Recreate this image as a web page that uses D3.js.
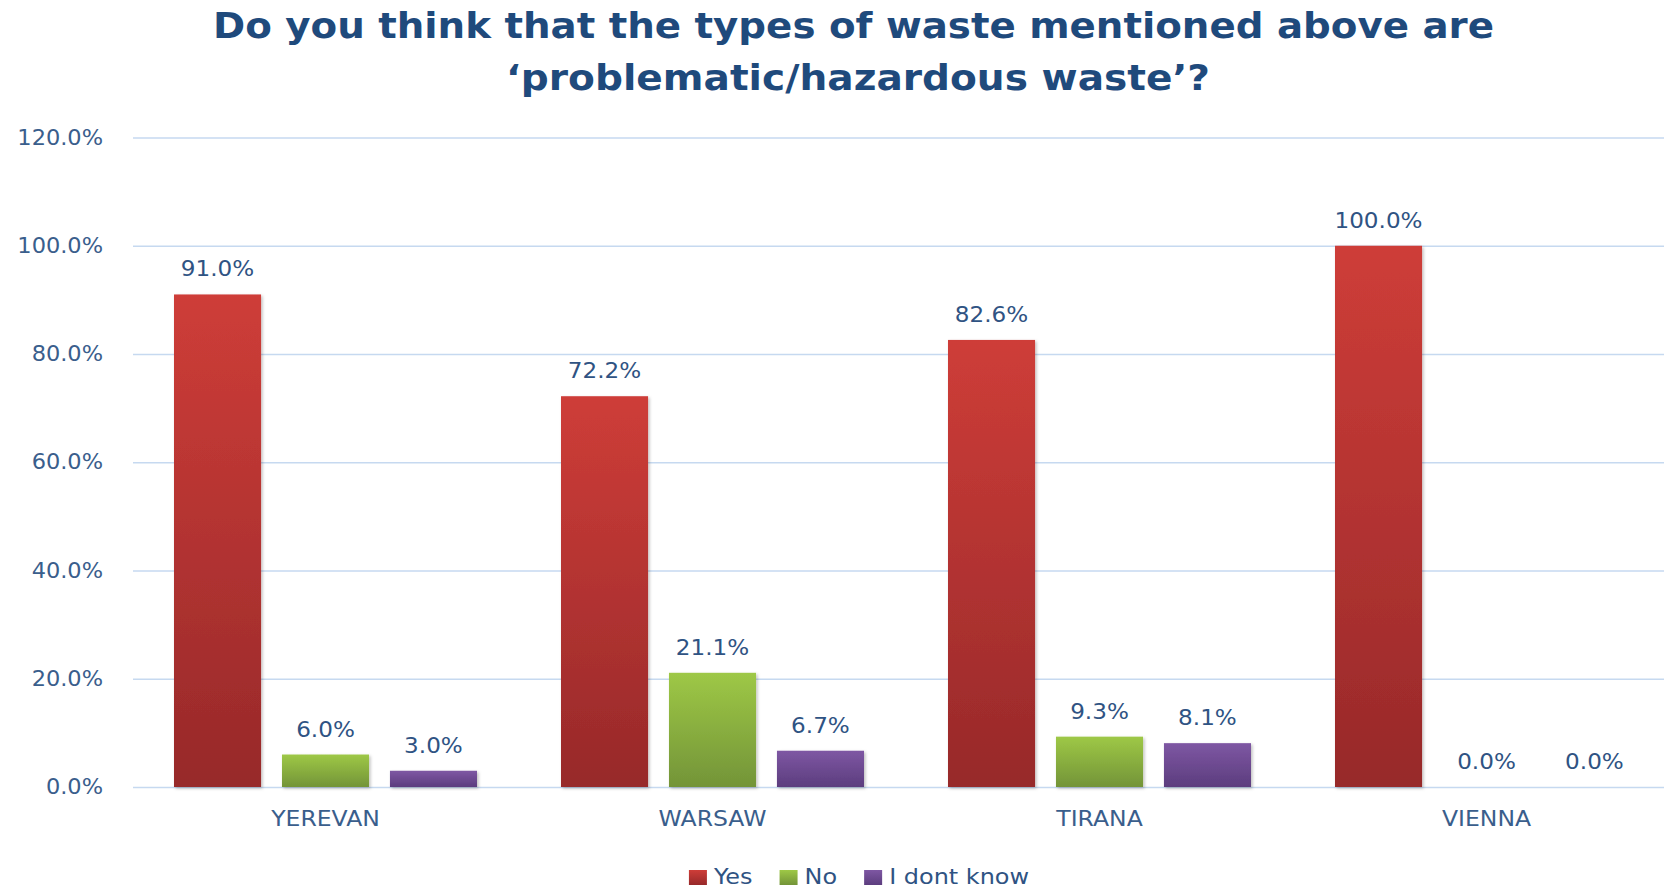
<html>
  <head>
    <style>
      body {
        margin: 0;
        background: #ffffff;
      }
      text {
        font-family: "DejaVu Sans", Verdana, sans-serif;
      }
      .title {
        font-weight: bold;
        font-size: 35px;
        fill: #1f4a7c;
      }
      .tick text {
        font-size: 21px;
        fill: #3a5e8c;
      }
      .value {
        font-size: 21px;
        fill: #2f5383;
      }
      .legend text {
        font-size: 21px;
        fill: #2f5383;
      }
    </style>
  </head>

  <body>
    <div id="chart"></div>

    <script src="https://d3js.org/d3.v7.min.js"></script>
    <script>
      var categories = ["YEREVAN", "WARSAW", "TIRANA", "VIENNA"];
      var seriesNames = ["Yes", "No", "I dont know"];
      var yesValues = [91.0, 72.2, 82.6, 100.0];
      var noValues = [6.0, 21.1, 9.3, 0.0];
      var dontKnowValues = [3.0, 6.7, 8.1, 0.0];
      var yTicks = [0, 20, 40, 60, 80, 100, 120];

      var width = 1664,
        height = 888,
        stretch = 1.1;

      var colors = {
        "Yes": ["#ce3d38", "#97292a"],
        "No": ["#9ec846", "#739438"],
        "I dont know": ["#7e57a3", "#5c3d7e"]
      };

      var svg = d3
        .select("#chart")
        .append("svg")
        .attr("width", width)
        .attr("height", height);

      var defs = svg.append("defs");

      seriesNames.forEach(function (s, i) {
        var g = defs
          .append("linearGradient")
          .attr("id", "grad" + i)
          .attr("x1", 0)
          .attr("y1", 0)
          .attr("x2", 0)
          .attr("y2", 1);
        g.append("stop").attr("offset", "0%").attr("stop-color", colors[s][0]);
        g.append("stop").attr("offset", "100%").attr("stop-color", colors[s][1]);
      });

      defs
        .append("filter")
        .attr("id", "shadow")
        .attr("x", "-10%")
        .attr("y", "-10%")
        .attr("width", "130%")
        .attr("height", "130%")
        .append("feDropShadow")
        .attr("dx", 1.5)
        .attr("dy", 1.5)
        .attr("stdDeviation", 1.5)
        .attr("flood-color", "#000")
        .attr("flood-opacity", 0.25);

      // widen text a bit, the original font runs wider than DejaVu
      function widen(sel, f) {
        sel.each(function () {
          var w = this.getComputedTextLength();
          d3.select(this)
            .attr("textLength", w * (f || stretch))
            .attr("lengthAdjust", "spacingAndGlyphs");
        });
      }

      // title
      svg
        .append("text")
        .attr("class", "title")
        .attr("x", 213)
        .attr("y", 38)
        .attr("textLength", 1281)
        .attr("lengthAdjust", "spacingAndGlyphs")
        .text("Do you think that the types of waste mentioned above are");

      svg
        .append("text")
        .attr("class", "title")
        .attr("x", 506)
        .attr("y", 90)
        .attr("textLength", 704)
        .attr("lengthAdjust", "spacingAndGlyphs")
        .text("\u2018problematic/hazardous waste\u2019?");

      var x = d3.scaleBand().domain(categories).range([132, 1680]);

      var x1 = d3
        .scaleBand()
        .domain(seriesNames)
        .range([0, x.bandwidth()])
        .paddingInner(0.194)
        .paddingOuter(0.389);

      var y = d3.scaleLinear().domain([0, 120]).range([787, 137.5]);

      // gridlines + y labels
      var yAxis = svg
        .append("g")
        .attr("transform", "translate(133,0)")
        .call(
          d3
            .axisLeft(y)
            .tickValues(yTicks)
            .tickFormat(function (d) {
              return d.toFixed(1) + "%";
            })
            .tickSize(-(1680 - 133))
            .tickPadding(30)
        );
      yAxis.select(".domain").remove();
      yAxis.selectAll(".tick line").attr("stroke", "#c6d9f0").attr("stroke-width", 1.6);
      yAxis.selectAll(".tick text").call(widen, 1.07);

      // category labels
      var xAxis = svg
        .append("g")
        .attr("transform", "translate(0,787)")
        .call(d3.axisBottom(x).tickSize(0).tickPadding(24));
      xAxis.select(".domain").remove();
      xAxis.selectAll(".tick text").call(widen, 1.12);

      var rows = categories.map(function (c, i) {
        return {
          category: c,
          values: [yesValues[i], noValues[i], dontKnowValues[i]]
        };
      });

      var groups = svg
        .append("g")
        .selectAll("g")
        .data(rows)
        .enter()
        .append("g")
        .attr("transform", function (d) {
          return "translate(" + x(d.category) + ",0)";
        });

      groups
        .selectAll("rect")
        .data(function (d) {
          return d.values.map(function (v, i) {
            return { series: seriesNames[i], idx: i, value: v };
          });
        })
        .enter()
        .filter(function (d) {
          return d.value > 0;
        })
        .append("rect")
        .attr("x", function (d) {
          return x1(d.series);
        })
        .attr("y", function (d) {
          return y(d.value);
        })
        .attr("width", x1.bandwidth())
        .attr("height", function (d) {
          return y(0) - y(d.value);
        })
        .attr("fill", function (d) {
          return "url(#grad" + d.idx + ")";
        })
        .attr("filter", "url(#shadow)");

      groups
        .selectAll("text.value")
        .data(function (d) {
          return d.values.map(function (v, i) {
            return { series: seriesNames[i], value: v };
          });
        })
        .enter()
        .append("text")
        .attr("class", "value")
        .attr("text-anchor", "middle")
        .attr("x", function (d) {
          return x1(d.series) + x1.bandwidth() / 2;
        })
        .attr("y", function (d) {
          return y(d.value) - 18;
        })
        .text(function (d) {
          return d.value.toFixed(1) + "%";
        })
        .call(widen, 1.1);

      // legend
      var legend = svg.append("g").attr("class", "legend");
      var items = legend
        .selectAll("g")
        .data(seriesNames)
        .enter()
        .append("g");

      items
        .append("rect")
        .attr("width", 18)
        .attr("height", 15)
        .attr("y", -13)
        .attr("fill", function (d, i) {
          return "url(#grad" + i + ")";
        });

      items
        .append("text")
        .attr("x", 25)
        .attr("y", 1)
        .text(function (d) {
          return d;
        })
        .call(widen, 1.14);

      var offs = [],
        cur = 0;
      items.each(function () {
        offs.push(cur);
        cur += this.getBBox().width + 27;
      });
      var total = cur - 27,
        start = 859 - total / 2;
      items.attr("transform", function (d, i) {
        return "translate(" + (start + offs[i]) + ",883)";
      });
    </script>
  </body>
</html>
